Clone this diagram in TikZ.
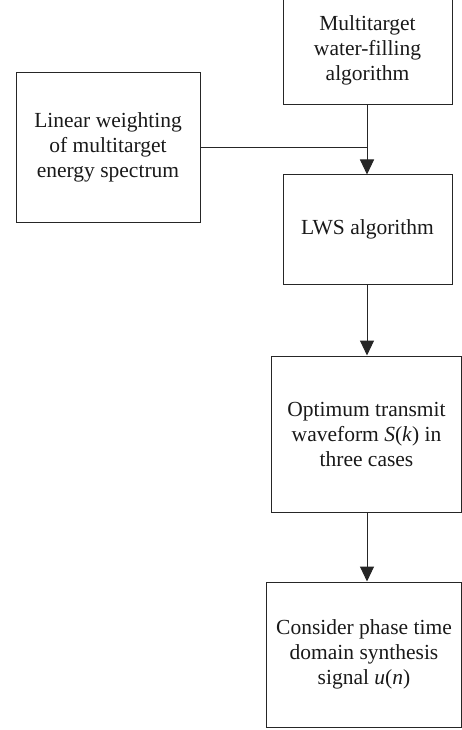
\documentclass[tikz,border=0pt]{standalone}
\usepackage{fontspec}
\setmainfont{Liberation Serif}
\usetikzlibrary{arrows.meta}
\begin{document}
\begin{tikzpicture}[x=1pt,y=-1pt,
  box/.style={draw=black!85, line width=1pt, align=center, inner sep=0pt,
    font=\fontsize{21.5}{25}\selectfont, text=black!90},
  arr/.style={draw=black!85, line width=1pt, -{Triangle[length=15pt,width=14pt]}}]
\useasboundingbox (0,0) rectangle (462,730);
\begin{scope}
\clip (0,0) rectangle (462,730);
\node[box, minimum width=169pt, minimum height=110pt] (mw) at (367.5,50) {Multitarget\\water-filling\\algorithm};
\node[box, minimum width=184pt, minimum height=149pt] (lw) at (108,147.5) {Linear weighting\\of multitarget\\energy spectrum};
\node[box, minimum width=169pt, minimum height=109pt] (lws) at (367.5,229.5) {LWS algorithm};
\node[box, minimum width=190pt, minimum height=156pt] (opt) at (366.5,434) {Optimum transmit\\waveform \textit{S}(\textit{k}) in\\three cases};
\node[box, minimum width=195pt, minimum height=145pt] (cp) at (364,654.5) {Consider phase time\\domain synthesis\\signal \textit{u}(\textit{n})};
\end{scope}
\coordinate (j) at (367,147.5);
\draw[arr] (mw.south -| j) -- (lws.north -| j);
\draw[draw=black!85, line width=1pt] (lw.east) -- (j);
\draw[arr] (lws.south -| j) -- (opt.north -| j);
\draw[arr] (opt.south -| j) -- (cp.north -| j);
\end{tikzpicture}
\end{document}
